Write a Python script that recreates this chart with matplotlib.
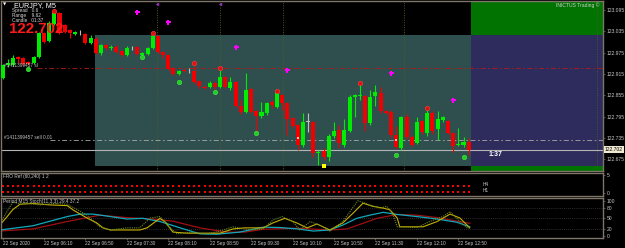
import matplotlib
matplotlib.use('Agg')
import matplotlib.pyplot as plt
import matplotlib.transforms as mtransforms
from matplotlib.patches import Rectangle
import numpy as np

plt.rcParams['font.family'] = ['Liberation Sans', 'DejaVu Sans']

W, H = 625, 248

# ---------------- data (EURJPY M5) ----------------
open_ = [122.903, 122.940, 122.940, 122.963, 122.960, 122.949, 122.946, 122.963, 123.030, 123.008,
         123.056, 123.087, 123.053, 123.039, 123.027, 123.033, 123.027, 123.002, 123.013, 122.974,
         122.996, 122.988, 122.991, 122.980, 122.968, 122.991, 122.991, 122.968, 122.971, 122.988,
         123.022, 122.977, 122.968, 122.932, 122.915, 122.926, 122.926, 122.923, 122.895, 122.878,
         122.878, 122.889, 122.878, 122.906, 122.875, 122.892, 122.825, 122.808, 122.872, 122.811,
         122.796, 122.805, 122.836, 122.822, 122.856, 122.833, 122.791, 122.771, 122.715, 122.780,
         122.780, 122.692, 122.698, 122.681, 122.740, 122.757, 122.715, 122.754, 122.850, 122.855,
         122.853, 122.777, 122.853, 122.861, 122.811, 122.808, 122.743, 122.706, 122.794, 122.737,
         122.720, 122.782, 122.749, 122.805, 122.760, 122.785, 122.782, 122.749, 122.715, 122.715,
         122.723]
high = [122.943, 122.957, 122.968, 122.965, 122.963, 122.951, 122.965, 123.033, 123.033, 123.064,
        123.089, 123.089, 123.056, 123.042, 123.036, 123.039, 123.030, 123.025, 123.019, 122.999,
        122.999, 122.996, 122.996, 122.982, 122.994, 122.994, 122.994, 122.977, 122.991, 123.025,
        123.025, 122.980, 122.971, 122.934, 122.926, 122.929, 122.932, 122.937, 122.898, 122.884,
        122.895, 122.892, 122.926, 122.909, 122.906, 122.895, 122.842, 122.918, 122.875, 122.813,
        122.836, 122.836, 122.842, 122.864, 122.858, 122.836, 122.794, 122.774, 122.805, 122.805,
        122.782, 122.701, 122.706, 122.746, 122.780, 122.771, 122.788, 122.856, 122.858, 122.884,
        122.856, 122.870, 122.884, 122.878, 122.813, 122.813, 122.768, 122.796, 122.802, 122.743,
        122.794, 122.785, 122.813, 122.811, 122.811, 122.796, 122.785, 122.751, 122.763, 122.737,
        122.734]
low = [122.901, 122.934, 122.937, 122.946, 122.940, 122.940, 122.943, 122.960, 123.002, 123.005,
       123.053, 123.027, 123.030, 123.016, 123.025, 123.025, 122.999, 122.999, 122.971, 122.968,
       122.982, 122.982, 122.974, 122.965, 122.965, 122.982, 122.968, 122.965, 122.968, 122.985,
       122.974, 122.960, 122.926, 122.912, 122.912, 122.920, 122.918, 122.889, 122.875, 122.872,
       122.875, 122.872, 122.875, 122.875, 122.870, 122.822, 122.802, 122.805, 122.805, 122.751,
       122.791, 122.799, 122.819, 122.819, 122.813, 122.743, 122.763, 122.701, 122.709, 122.751,
       122.681, 122.658, 122.673, 122.670, 122.734, 122.706, 122.709, 122.751, 122.794, 122.842,
       122.754, 122.771, 122.825, 122.805, 122.802, 122.737, 122.703, 122.701, 122.732, 122.712,
       122.718, 122.746, 122.740, 122.746, 122.729, 122.780, 122.746, 122.695, 122.712, 122.709,
       122.687]
close = [122.940, 122.946, 122.960, 122.957, 122.943, 122.943, 122.963, 123.030, 123.005, 123.058,
         123.087, 123.030, 123.033, 123.030, 123.033, 123.033, 123.002, 123.016, 122.974, 122.996,
         122.988, 122.991, 122.977, 122.968, 122.988, 122.991, 122.971, 122.974, 122.988, 123.022,
         122.977, 122.968, 122.929, 122.915, 122.923, 122.925, 122.926, 122.892, 122.881, 122.877,
         122.889, 122.878, 122.906, 122.878, 122.892, 122.825, 122.808, 122.870, 122.808, 122.796,
         122.808, 122.833, 122.827, 122.861, 122.833, 122.788, 122.768, 122.715, 122.780, 122.780,
         122.692, 122.695, 122.681, 122.740, 122.754, 122.720, 122.757, 122.850, 122.856, 122.856,
         122.777, 122.850, 122.864, 122.811, 122.805, 122.743, 122.709, 122.794, 122.737, 122.715,
         122.780, 122.751, 122.805, 122.754, 122.788, 122.794, 122.749, 122.712, 122.718, 122.723,
         122.702]

time_idx = [0, 8, 16, 24, 32, 40, 48, 56, 64, 72, 80, 88]
time_labels = ["22 Sep 2020", "22 Sep 06:10", "22 Sep 06:50", "22 Sep 07:30", "22 Sep 08:10",
               "22 Sep 08:50", "22 Sep 09:30", "22 Sep 10:10", "22 Sep 10:50", "22 Sep 11:30",
               "22 Sep 12:10", "22 Sep 12:50"]
price_ticks = [123.095, 123.035, 122.975, 122.915, 122.855, 122.795, 122.735, 122.675]

bid = 122.702
sl_price, sl_start = 122.932, 6.7
entry_price, entry_start = 122.729, 9.2
zone_top, zone_bot, zone_start, zone_split = 123.025, 122.656, 17.9, 90.4
separators = [29.8, 42.0, 54.2, 77.5, 114.8]

sell_sig_x = [10, 29, 37, 42, 53, 69, 82]
sell_sig_y = [123.092, 123.030, 122.946, 122.932, 122.867, 122.889, 122.819]
buy_sig_x = [5, 27, 34, 41, 49, 76, 89]
buy_sig_y = [122.929, 122.963, 122.892, 122.864, 122.749, 122.687, 122.681]
alert_x = [26, 32, 45, 55, 75, 87]
alert_y = [123.089, 123.061, 122.991, 122.926, 122.918, 122.842]
trade_x = [57, 76]
trade_y = [122.734, 122.729]
warn_x = [62]
warn_y = [122.656]

h4_level, h1_level = 2.0, 0.35

stoch_main_x = [-0.5, 0.9, 2, 3.4, 5.9, 9.2, 12.5, 13.6, 15, 16.3, 18.2, 19.4, 20.8, 26.5, 27.9, 30.4,
                31.4, 32.9, 35.6, 42, 44.5, 46.8, 50.3, 52.2, 54.5, 56.8, 58.8, 60.7, 63.2, 65.7, 67.7,
                69.6, 71.5, 73.5, 74.8, 76.2, 76.7, 81.2, 83.9, 86.4, 88.3, 90.2]
stoch_main = [31, 55, 75, 90, 92, 88, 86, 74, 62, 51, 37, 23, 17, 17, 23, 50, 40, 11, 8, 8, 20, 23, 23,
              37, 50, 37, 23, 34, 17, 37, 65, 93, 84, 79, 74, 51, 26, 26, 41, 62, 51, 23]
stoch_raw_x = [-0.1, 2, 3.4, 4.7, 7.2, 10.1, 12.5, 14.4, 16.3, 18.8, 20.8, 24, 26.5, 28.5, 30.4, 31.8,
               33.7, 35.6, 39.5, 42, 44.5, 47.8, 50.3, 52.2, 54, 56.1, 57.4, 59.4, 61.3, 63.2, 65.7,
               68.6, 70.9, 72.9, 74.2, 75.4, 76.2, 80, 82.5, 85, 86.4, 87.7, 89.7, 90.2]
stoch_raw = [45, 97, 90, 93, 88, 92, 90, 75, 59, 26, 17, 23, 23, 51, 55, 31, 6, 10, 6, 14, 26, 17, 20,
             45, 55, 40, 17, 41, 30, 14, 41, 100, 88, 79, 84, 60, 26, 24, 41, 55, 69, 50, 23, 23]
stoch_sig_x = [-0.5, 5.9, 9.2, 12.5, 15, 17.5, 20.8, 24, 27.1, 30.4, 34.3, 38.1, 41.4, 45.8, 50.3, 53.6,
               56.9, 60, 63.2, 65.7, 68.4, 70.9, 73.5, 76.2, 80, 83.9, 87.7, 90.2]
stoch_sig = [17, 29, 42, 55, 62, 62, 55, 48, 50, 41, 23, 6, 5, 11, 25, 24, 20, 14, 17, 31, 50, 59, 67,
             61, 55, 48, 39, 26]
stoch_slow_x = [-0.5, 5.9, 12.5, 18.8, 24, 29, 32.9, 38.1, 43.3, 46.8, 50.3, 56.8, 63.2, 66.5, 69.6,
                72.3, 76.2, 80, 83.9, 87.7, 90.2]
stoch_slow = [14, 20, 41, 59, 52, 48, 42, 23, 11, 11, 19, 22, 17, 20, 36, 50, 61, 59, 52, 42, 36]

# ---------------- figure ----------------
BORDER = '#7d7567'
TXT = '#c8c8c8'
fig = plt.figure(figsize=(W / 100, H / 100), dpi=100, facecolor='black')


def rect(x0, y0, x1, y1):
    return [x0 / W, 1 - y1 / H, (x1 - x0) / W, (y1 - y0) / H]


def ftext(x, y, s, **kw):
    kw.setdefault('va', 'center')
    kw.setdefault('ha', 'left')
    fig.text(x / W, 1 - y / H, s, **kw)


ax = fig.add_axes(rect(1, 1, 603, 171))
ax1 = fig.add_axes(rect(1, 173, 603, 196))
ax2 = fig.add_axes(rect(1, 198, 603, 238))

XL = (-0.29, 115.93)
for a in (ax, ax1, ax2):
    a.set_facecolor('black')
    a.set_xlim(*XL)
    for sp in a.spines.values():
        sp.set_color(BORDER)
        sp.set_linewidth(1.0)
    a.yaxis.tick_right()
    a.tick_params(axis='y', direction='out', length=1.5, width=0.5, colors=BORDER,
                  labelcolor=TXT, labelsize=3.6, pad=1.2)
    a.tick_params(axis='x', bottom=False, labelbottom=False)

# main price panel
ax.set_ylim(123.1204 - 0.0028169 * 170, 123.1204)
ax.set_yticks(price_ticks)
ax.set_yticklabels([f"{p:.3f}" for p in price_ticks])

ax.add_patch(Rectangle((zone_start, zone_bot), zone_split - zone_start, zone_top - zone_bot,
                       facecolor='#2f4f4f', edgecolor='none', zorder=0.5))
ax.add_patch(Rectangle((zone_split, zone_bot), XL[1] - zone_split + 1, zone_top - zone_bot,
                       facecolor='#2e2b5d', edgecolor='none', zorder=0.5))
ax.add_patch(Rectangle((zone_split, zone_top), XL[1] - zone_split + 1, 0.2,
                       facecolor='#007300', edgecolor='none', zorder=0.5))
ax.add_patch(Rectangle((zone_split, zone_bot - 0.2), XL[1] - zone_split + 1, 0.2,
                       facecolor='#007300', edgecolor='none', zorder=0.5))

for s in separators:
    ax.axvline(s, color='#4d5a24', lw=0.7, ls=(0, (1, 1.5)), zorder=1)

ax.hlines(sl_price, sl_start, XL[1], colors='#b41a1a', lw=0.6, linestyles=(0, (6, 3, 2, 3)), zorder=2)
ax.hlines(entry_price, entry_start, XL[1], colors='#a8a8a8', lw=0.6, linestyles=(0, (6, 3, 2, 3)), zorder=2)
ax.axhline(bid, color='#b4b4b4', lw=0.8, zorder=2)

o = np.array(open_); c = np.array(close); hi = np.array(high); lo = np.array(low)
x = np.arange(len(o))
cols = np.where(c > o, '#00ec00', np.where(c < o, '#f00000', '#c0c0c0'))
ax.vlines(x, lo, hi, colors=cols, lw=0.8, zorder=3)
body_h = np.maximum(np.abs(c - o), 0.0024)
body_b = np.minimum(o, c) - np.where(np.abs(c - o) < 0.0024, 0.0012, 0)
ax.bar(x, body_h, bottom=body_b, width=0.78, color=cols, linewidth=0, zorder=4)

ax.plot(sell_sig_x, sell_sig_y, 'o', ms=3.2, color='#e01010', mec='#ff4040', mew=0.4, zorder=5)
ax.plot(buy_sig_x, buy_sig_y, 'o', ms=3.2, color='#22cc22', mec='#44ee44', mew=0.4, zorder=5)
ax.plot(alert_x, alert_y, 'P', ms=3.6, color='#ff00ff', mew=0, zorder=5)
ax.plot(trade_x, trade_y, 's', ms=2.0, color='#e8c8c8', mew=0, zorder=5)
ax.plot(warn_x, warn_y, 's', ms=3.0, color='#ffff00', mew=0, zorder=5)
ax.plot(separators[:2], [123.111, 123.111], '<', ms=2.5, color='#9a30c0', mew=0, zorder=5)

trans = mtransforms.blended_transform_factory(ax.transAxes, ax.transData)
ax.text(1.003, bid, f"{bid:.3f}", transform=trans, fontsize=3.6, color='black', va='center', ha='left',
        bbox=dict(boxstyle='square,pad=0.25', facecolor='#f0ead2', edgecolor='none'), zorder=6,
        clip_on=False)

# FRO Ref panel
ax1.set_ylim(-0.83, 5.56)
ax1.set_yticks([0, 5])
ax1.set_yticklabels(['0', '5'])
ax1.plot(x, np.full(len(x), h4_level), 's', ms=1.7, color='#ff0000', mew=0)
ax1.plot(x, np.full(len(x), h1_level), 's', ms=1.7, color='#ff0000', mew=0)

# Stochastic panel
ax2.set_ylim(-5.7, 107.6)
ax2.set_yticks([0, 20, 50, 80, 100])
ax2.set_yticklabels(['0', '20', '50', '80', '100'])
for lvl in (20, 50, 80):
    ax2.axhline(lvl, color='#3c3c3c', lw=0.6, ls=(0, (1, 1.5)))
ax2.plot(stoch_slow_x, stoch_slow, color='#a01010', lw=0.9)
ax2.plot(stoch_sig_x, stoch_sig, color='#10a8bc', lw=0.9)
ax2.plot(stoch_main_x, stoch_main, color='#c8b000', lw=0.8)
ax2.plot(stoch_raw_x, stoch_raw, color='#6b8e23', lw=0.8, ls=(0, (1, 1)))
ax2.set_xticks(time_idx)
ax2.set_xticklabels(time_labels, ha='left')
ax2.tick_params(axis='x', bottom=True, labelbottom=True, direction='out', length=1.5, width=0.5,
                colors=BORDER, labelcolor=TXT, labelsize=3.4, pad=0.6)

# texts
ftext(3, 4.5, '▼', color='white', fontsize=3, family='DejaVu Sans')
ftext(14, 5.5, 'EURJPY, M5', color='white', fontsize=5.2)
ftext(12, 10.5, 'Spread   0.6', color='#d8d8d8', fontsize=3.4)
ftext(12, 15.3, 'Range    9.62', color='#d8d8d8', fontsize=3.4)
ftext(12, 20.1, 'Candle   01:37', color='#d8d8d8', fontsize=3.4)
ftext(9, 28.8, '122.702', color='#ff1a1a', fontsize=10.8, fontweight='bold')
ftext(600, 5, 'INICTUS Trading ©', color='#d0d0d0', fontsize=3.6, ha='right')
ftext(4, 65.5, '#1411399457 sl', color='#c0c0c0', fontsize=3.4)
ftext(4, 137.3, '#1411399457 sell 0.01', color='#c0c0c0', fontsize=3.4)
ftext(489, 155, '1:37', color='white', fontsize=5, fontweight='bold')
ftext(3, 176.5, 'FRO Ref (60,240) 1 2', color=TXT, fontsize=3.4)
ftext(483, 185, 'H4', color=TXT, fontsize=3.4)
ftext(483, 190.5, 'H1', color=TXT, fontsize=3.4)
ftext(3, 201.5, 'Period M15 Stoch(11,3,3) 29.4 37.2', color=TXT, fontsize=3.4)

fig.savefig('out.png', dpi=100, facecolor='black')
